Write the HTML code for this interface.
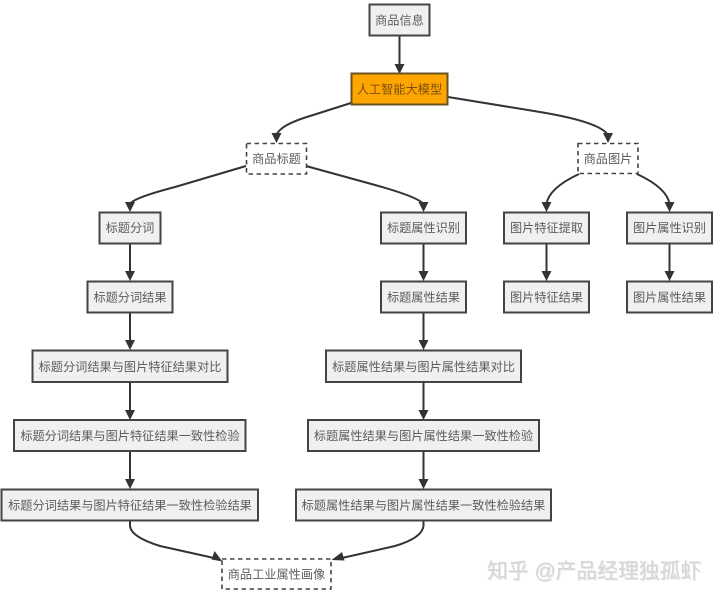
<!DOCTYPE html>
<html lang="zh">
<head>
<meta charset="utf-8">
<title>商品工业属性画像流程图</title>
<style>
html,body{margin:0;padding:0;background:#fff;width:720px;height:598px;overflow:hidden}
svg{display:block;filter:blur(.35px)}
text{font-family:"Liberation Sans","Noto Sans CJK SC",sans-serif;font-size:12.2px;fill:#5c5c5c;text-anchor:middle}
.n{fill:#f0f0f0;stroke:#444;stroke-width:2}
.d{fill:#fff;stroke:#444;stroke-width:1.6;stroke-dasharray:4.5 3.5}
.a{fill:#ffa500;stroke:#6a5320;stroke-width:2}
.e{fill:none;stroke:#333;stroke-width:2}
.h{fill:#333}
.w{font-size:20.8px;fill:#d6d6d6;text-anchor:start}
.s{font-size:20.8px;fill:#e6e6e6;text-anchor:start}
</style>
</head>
<body>
<svg width="720" height="598" viewBox="0 0 720 598" xmlns="http://www.w3.org/2000/svg">
<rect width="720" height="598" fill="#fff"/>

<!-- connectors -->
<path class="e" d="M399.5 36V64"/>
<path class="e" d="M351 103L310 116Q280 125 276.500 135"/>
<path class="e" d="M448 97L540 112Q600 122 608 135"/>
<path class="e" d="M246 166L175 187Q133 198 130 204"/>
<path class="e" d="M306 166L375 185Q418 197 423.500 204"/>
<path class="e" d="M579 174Q549 188 546.500 204"/>
<path class="e" d="M637 174Q667 188 669.500 204"/>
<path class="e" d="M130 243V273M130 313V342M130 382V411M130 451V481"/>
<path class="e" d="M423.500 243V273M423.500 313V342M423.500 382V411M423.500 451V481"/>
<path class="e" d="M546.500 243V273M669.500 243V273"/>
<path class="e" d="M130 521V526Q131 537 160 546L214 558"/>
<path class="e" d="M423.500 521V526Q422 538 395 546L342 558"/>

<!-- arrowheads -->
<g class="h">
<path d="M394.500 64h10l-5 10z"/>
<path d="M271.500 133h10l-5 10z"/>
<path d="M603 133h10l-5 10z"/>
<path d="M125 202h10l-5 10z"/>
<path d="M418.500 202h10l-5 10z"/>
<path d="M541.500 202h10l-5 10z"/>
<path d="M664.500 202h10l-5 10z"/>
<path d="M125 271h10l-5 10zM125 340h10l-5 10zM125 410h10l-5 10zM125 479h10l-5 10z"/>
<path d="M418.500 271h10l-5 10zM418.500 340h10l-5 10zM418.500 410h10l-5 10zM418.500 479h10l-5 10z"/>
<path d="M541.500 271h10l-5 10zM664.500 271h10l-5 10z"/>
<path d="M222.500 561.500L211.500 559.500L214.500 551z"/>
<path d="M331.500 560L342 552L344.500 560.500z"/>
</g>

<!-- nodes -->
<rect class="n" x="369.500" y="4.500" width="60" height="31"/>
<text x="399.500" y="24.500">商品信息</text>

<rect class="a" x="351.500" y="73.500" width="96" height="31"/>
<text x="399.500" y="93.500" style="fill:#7a4f10">人工智能大模型</text>

<rect class="d" x="246.500" y="143.500" width="60" height="30.500"/>
<text x="276.500" y="163">商品标题</text>

<rect class="d" x="578" y="143.500" width="60" height="30"/>
<text x="608" y="163">商品图片</text>

<rect class="n" x="99.500" y="212.500" width="61" height="31"/>
<text x="130" y="232">标题分词</text>

<rect class="n" x="381" y="212.500" width="85" height="31"/>
<text x="423.500" y="232">标题属性识别</text>

<rect class="n" x="504" y="212.500" width="85" height="31"/>
<text x="546.500" y="232">图片特征提取</text>

<rect class="n" x="627" y="212.500" width="85" height="31"/>
<text x="669.500" y="232">图片属性识别</text>

<rect class="n" x="87.500" y="281.500" width="85" height="31"/>
<text x="130" y="301.500">标题分词结果</text>

<rect class="n" x="381" y="281.500" width="85" height="31"/>
<text x="423.500" y="301.500">标题属性结果</text>

<rect class="n" x="504" y="281.500" width="85" height="31"/>
<text x="546.500" y="301.500">图片特征结果</text>

<rect class="n" x="627" y="281.500" width="85" height="31"/>
<text x="669.500" y="301.500">图片属性结果</text>

<rect class="n" x="32.500" y="350.500" width="195" height="31.500"/>
<text x="130" y="371">标题分词结果与图片特征结果对比</text>

<rect class="n" x="326" y="350.500" width="195" height="31.500"/>
<text x="423.500" y="371">标题属性结果与图片属性结果对比</text>

<rect class="n" x="14" y="420" width="231.500" height="31"/>
<text x="130" y="440">标题分词结果与图片特征结果一致性检验</text>

<rect class="n" x="308" y="420" width="231" height="31"/>
<text x="423.500" y="440">标题属性结果与图片属性结果一致性检验</text>

<rect class="n" x="1.500" y="489.500" width="256.500" height="31"/>
<text x="130" y="509.500">标题分词结果与图片特征结果一致性检验结果</text>

<rect class="n" x="296" y="489.500" width="255" height="31"/>
<text x="423.500" y="509.500">标题属性结果与图片属性结果一致性检验结果</text>

<rect class="d" x="222" y="559" width="109" height="30"/>
<text x="276.500" y="578.500">商品工业属性画像</text>

<!-- watermark -->
<text class="s" x="488" y="579">知乎 @产品经理独孤虾</text>
<text class="w" x="487" y="578">知乎 @产品经理独孤虾</text>
</svg>
</body>
</html>
